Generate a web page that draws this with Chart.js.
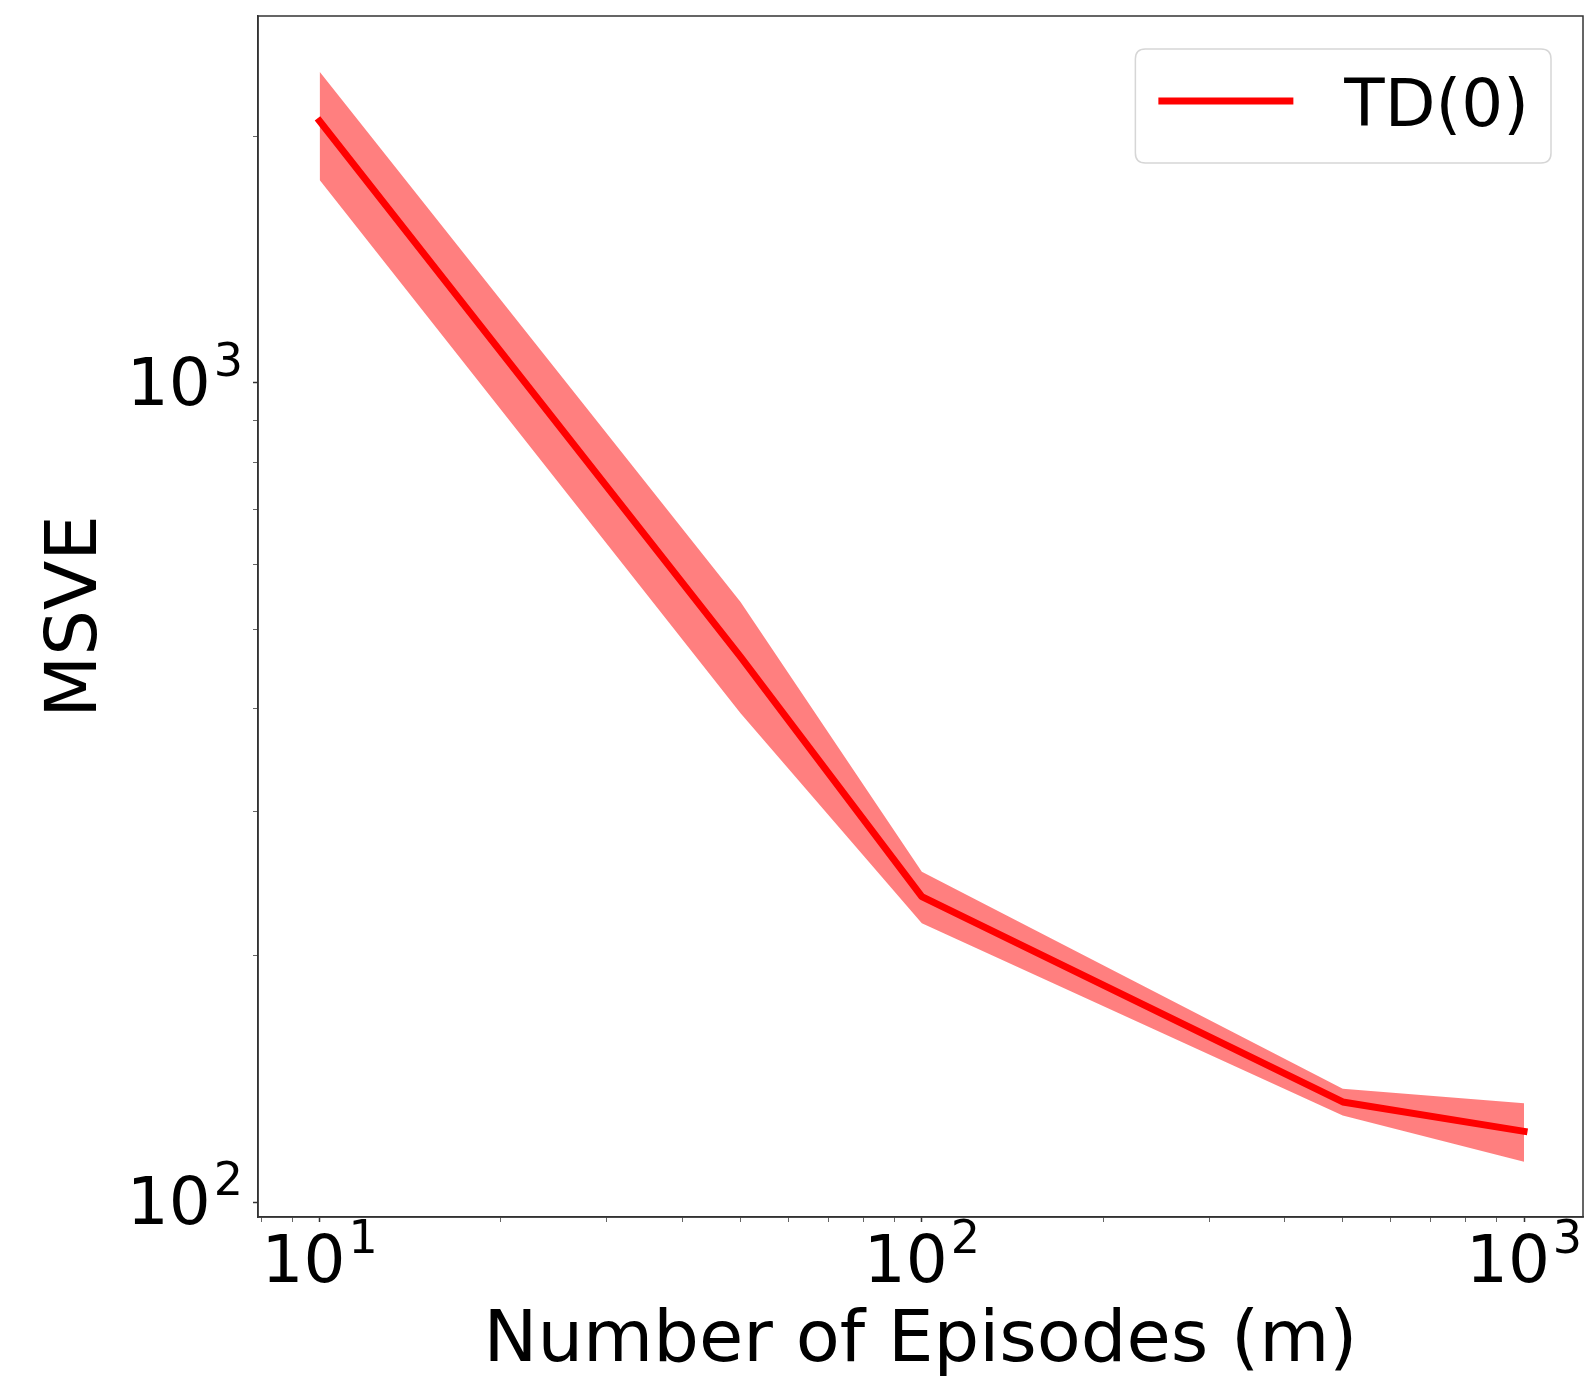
<!DOCTYPE html>
<html>
<head>
<meta charset="utf-8">
<script src="https://cdn.jsdelivr.net/npm/chart.js@4/dist/chart.umd.min.js"></script>
<style>
  html, body { margin: 0; padding: 0; background: #ffffff; }
  #wrap { width: 1593px; height: 1378px; position: relative; }
  canvas { display: block; }
</style>
</head>
<body>
<div id="wrap"><canvas id="chart" width="1593" height="1378"></canvas></div>
<script>
// ---- data ----
const episodes  = [10, 50, 100, 500, 1000];
const msveMean  = [2087, 463, 236, 132.5, 122];
const msveUpper = [2397, 540, 253, 137.5, 132];
const msveLower = [1768, 395, 219, 127.6, 112];
const seriesLabel = 'TD(0)';

// ---- axes ----
const xRange = [7.90, 1253];
const yRange = [95.9, 2804];
const tickBase = '10';
const xMajorTicks = [10, 100, 1000];
const xMajorExps  = ['1', '2', '3'];
const xMinorTicks = [8, 9, 20, 30, 40, 50, 60, 70, 80, 90, 200, 300, 400, 500, 600, 700, 800, 900];
const yMajorTicks = [100, 1000];
const yMajorExps  = ['2', '3'];
const yMinorTicks = [200, 300, 400, 500, 600, 700, 800, 900, 2000];
const xTitle = 'Number of Episodes (m)';
const yTitle = 'MSVE';

const FONT = '"DejaVu Sans", "Liberation Sans", sans-serif';
const BASE_SIZE = 66, EXP_SIZE = 46, EXP_GAP = 3, EXP_RAISE = 29;

function toPoints(xs, ys) { return xs.map((x, i) => ({ x: x, y: ys[i] })); }

function setTicks(major, minor) {
  return function (scale) {
    const all = major.concat(minor).sort((a, b) => a - b);
    scale.ticks = all.map(v => ({ value: v, major: major.includes(v) }));
  };
}
function labelFor(major, exps) {
  return function (value) {
    const i = major.indexOf(value);
    return i >= 0 ? tickBase + '^' + exps[i] : '';
  };
}

// Draws the major tick labels as 10 with a raised exponent, placed by the scales.
const mathTickPlugin = {
  id: 'mathTicks',
  afterDraw(chart) {
    const ctx = chart.ctx;
    const xs = chart.scales.x, ys = chart.scales.y;
    ctx.save();
    ctx.fillStyle = '#000000';
    ctx.textAlign = 'left';
    ctx.textBaseline = 'alphabetic';
    const measure = (txt, size) => { ctx.font = size + 'px ' + FONT; return ctx.measureText(txt).width; };
    const draw = (left, baseline, exp) => {
      const bw = measure(tickBase, BASE_SIZE);
      ctx.font = BASE_SIZE + 'px ' + FONT;
      ctx.fillText(tickBase, left, baseline);
      ctx.font = EXP_SIZE + 'px ' + FONT;
      ctx.fillText(exp, left + bw + EXP_GAP, baseline - EXP_RAISE);
    };
    xMajorTicks.forEach((v, i) => {
      const px = xs.getPixelForValue(v);
      const total = measure(tickBase, BASE_SIZE) + EXP_GAP + measure(xMajorExps[i], EXP_SIZE);
      draw(px - total / 2, xs.top + 65, xMajorExps[i]);
    });
    yMajorTicks.forEach((v, i) => {
      const py = ys.getPixelForValue(v);
      const total = measure(tickBase, BASE_SIZE) + EXP_GAP + measure(yMajorExps[i], EXP_SIZE);
      draw(ys.right - 15 - total, py + 22, yMajorExps[i]);
    });
    ctx.restore();
  }
};

const framePlugin = {
  id: 'frame',
  afterDraw(chart) {
    const { ctx, chartArea: a } = chart;
    ctx.save();
    ctx.strokeStyle = '#333333';
    ctx.lineWidth = 1.5;
    ctx.strokeRect(a.left, a.top, a.right - a.left, a.bottom - a.top);
    ctx.restore();
  }
};

const legendPlugin = {
  id: 'boxLegend',
  afterDraw(chart) {
    const { ctx, chartArea: a } = chart;
    const ds = chart.data.datasets[0];
    ctx.save();
    ctx.font = '66px ' + FONT;
    const tw = ctx.measureText(ds.label).width;
    const w = 209 + tw + 22, h = 114;
    const x1 = a.right - 32, x0 = x1 - w, y0 = a.top + 33;
    const r = 10;
    ctx.beginPath();
    ctx.moveTo(x0 + r, y0);
    ctx.lineTo(x1 - r, y0);
    ctx.quadraticCurveTo(x1, y0, x1, y0 + r);
    ctx.lineTo(x1, y0 + h - r);
    ctx.quadraticCurveTo(x1, y0 + h, x1 - r, y0 + h);
    ctx.lineTo(x0 + r, y0 + h);
    ctx.quadraticCurveTo(x0, y0 + h, x0, y0 + h - r);
    ctx.lineTo(x0, y0 + r);
    ctx.quadraticCurveTo(x0, y0, x0 + r, y0);
    ctx.closePath();
    ctx.fillStyle = 'rgba(255,255,255,0.8)';
    ctx.fill();
    ctx.strokeStyle = '#d6d6d6';
    ctx.lineWidth = 1.5;
    ctx.stroke();
    ctx.beginPath();
    ctx.moveTo(x0 + 23, y0 + 52);
    ctx.lineTo(x0 + 158, y0 + 52);
    ctx.strokeStyle = ds.borderColor;
    ctx.lineWidth = ds.borderWidth;
    ctx.lineCap = 'butt';
    ctx.stroke();
    ctx.fillStyle = '#000000';
    ctx.textBaseline = 'alphabetic';
    ctx.textAlign = 'left';
    ctx.fillText(ds.label, x0 + 209, y0 + 77);
    ctx.restore();
  }
};

new Chart(document.getElementById('chart'), {
  type: 'line',
  data: {
    datasets: [
      {
        label: seriesLabel,
        data: toPoints(episodes, msveMean),
        borderColor: '#ff0000',
        borderWidth: 7,
        borderCapStyle: 'square',
        borderJoinStyle: 'round',
        pointRadius: 0,
        fill: false,
        tension: 0,
        order: 0
      },
      {
        label: 'upper',
        data: toPoints(episodes, msveUpper),
        borderWidth: 0,
        borderColor: 'rgba(0,0,0,0)',
        backgroundColor: 'rgba(255,0,0,0.5)',
        pointRadius: 0,
        fill: '+1',
        tension: 0,
        order: 1
      },
      {
        label: 'lower',
        data: toPoints(episodes, msveLower),
        borderWidth: 0,
        borderColor: 'rgba(0,0,0,0)',
        pointRadius: 0,
        fill: false,
        tension: 0,
        order: 2
      }
    ]
  },
  options: {
    responsive: false,
    devicePixelRatio: 1,
    animation: false,
    layout: { padding: { top: 16, right: 10, left: 0, bottom: 0 } },
    plugins: {
      legend: { display: false },
      tooltip: { enabled: false }
    },
    scales: {
      x: {
        type: 'logarithmic',
        position: 'bottom',
        min: xRange[0],
        max: xRange[1],
        afterBuildTicks: setTicks(xMajorTicks, xMinorTicks),
        afterFit(scale) {
          scale.height = 1378 - 1217;
          scale.paddingLeft = 0; scale.paddingRight = 0;
          scale.paddingTop = 0; scale.paddingBottom = 0;
        },
        ticks: {
          display: false,
          autoSkip: false,
          maxRotation: 0,
          minRotation: 0,
          callback: labelFor(xMajorTicks, xMajorExps)
        },
        grid: {
          drawOnChartArea: false,
          drawTicks: true,
          tickLength: 5,
          tickColor: (c) => (c.tick && c.tick.major) ? '#333333' : '#666666',
          tickWidth: (c) => (c.tick && c.tick.major) ? 1.5 : 1
        },
        border: { display: true, color: '#333333', width: 1.5 },
        title: {
          display: true,
          text: xTitle,
          color: '#000000',
          font: { family: FONT, size: 72, lineHeight: 1 },
          padding: { top: 0, bottom: 0 }
        }
      },
      y: {
        type: 'logarithmic',
        position: 'left',
        min: yRange[0],
        max: yRange[1],
        afterBuildTicks: setTicks(yMajorTicks, yMinorTicks),
        afterFit(scale) {
          scale.width = 258;
          scale.paddingLeft = 0; scale.paddingRight = 0;
          scale.paddingTop = 0; scale.paddingBottom = 0;
        },
        ticks: {
          display: false,
          autoSkip: false,
          callback: labelFor(yMajorTicks, yMajorExps)
        },
        grid: {
          drawOnChartArea: false,
          drawTicks: true,
          tickLength: 5,
          tickColor: (c) => (c.tick && c.tick.major) ? '#333333' : '#666666',
          tickWidth: (c) => (c.tick && c.tick.major) ? 1.5 : 1
        },
        border: { display: true, color: '#333333', width: 1.5 },
        title: {
          display: true,
          text: yTitle,
          color: '#000000',
          font: { family: FONT, size: 72, lineHeight: 1 },
          padding: { top: 41, bottom: 0 }
        }
      }
    }
  },
  plugins: [framePlugin, legendPlugin, mathTickPlugin]
});
</script>
</body>
</html>
